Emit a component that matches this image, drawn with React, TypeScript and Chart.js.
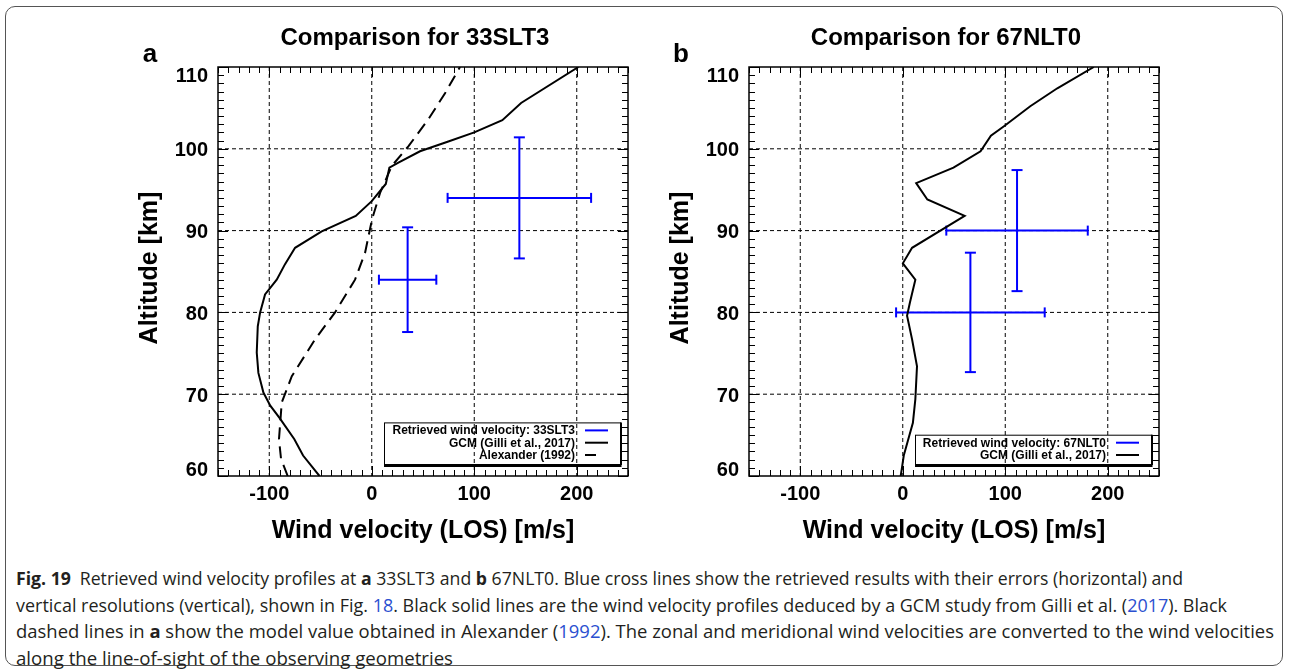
import React, { useEffect, useLayoutEffect, useRef } from "react";
import { Chart, registerables } from "chart.js";

Chart.register(...registerables);

const FONT = "'Liberation Sans', Arial, Helvetica, sans-serif";
const BLUE = "#0000ff";

// Axis ranges and tick marks
const velocityRange = [-150, 250];
const altitudeRange = [60, 110];
const velocityMajorTicks = [-100, 0, 100, 200];
const altitudeMajorTicks = [60, 70, 80, 90, 100, 110];
const velocityMinorStep = 10;
const altitudeMinorStep = 1;
const velocityAxisTitle = "Wind velocity (LOS) [m/s]";
const altitudeAxisTitle = "Altitude [km]";

// (a) 33SLT3 — GCM profile (Gilli et al., 2017)
const gcmAltitudeA = [60, 62.5, 64.5, 67.1, 68.6, 70.2, 72.6, 75.1, 78.3, 80, 82.2, 84, 85.9, 87.9, 89.9, 91.8, 93.6, 95.7, 97.7, 98.3, 99.7, 100.9, 102, 103.5, 105.6, 110];
const gcmVelocityA = [-51, -67, -75.5, -90, -99, -105.7, -110.6, -112.2, -111.2, -108.9, -104.1, -92.7, -84.6, -74.8, -48.8, -15.6, 0, 13.7, 17.2, 26, 47.1, 74.7, 100, 127.4, 145.7, 201.6];
// (a) 33SLT3 — Alexander (1992) model
const alexAltitudeA = [60, 62.1, 64.5, 69, 72.2, 76.7, 80, 84, 87.3, 91.4, 94.6, 97.9, 100.3, 103.6, 106.8, 110];
const alexVelocityA = [-82, -88.5, -90.5, -87.8, -78, -55.3, -35.8, -16.3, -6.5, 0.3, 8.1, 19.5, 35.7, 55.2, 71.5, 86.1];
// (a) retrieved winds: velocity, velocity error, altitude, vertical resolution
const retVelocityA = [35, 144];
const retVelocityErrA = [28, 70];
const retAltitudeA = [84, 94];
const retAltitudeResA = [6.4, 7.4];

// (b) 67NLT0 — GCM profile (Gilli et al., 2017)
const gcmAltitudeB = [60, 60.8, 62.5, 64.3, 66.5, 69.4, 73.4, 76.7, 79.6, 81.2, 84, 86, 87.9, 91.8, 93.8, 95.8, 97.7, 99.7, 101.6, 102.7, 105.2, 107.4, 110];
const gcmVelocityB = [-2, -1, 1, 5, 9.9, 12.3, 13.9, 9.1, 4.2, 7, 12.3, 0.1, 9.1, 60.4, 24, 13.1, 49.5, 75.9, 86, 98.1, 124.4, 150.8, 186.4];
// (b) retrieved winds
const retVelocityB = [111.5, 66];
const retVelocityErrB = [69, 72.5];
const retAltitudeB = [90, 80];
const retAltitudeResB = [7.4, 7.3];

const ALEX_DASH = [12, 7];

type LegendEntry = { text: string; color: string; dashed?: boolean };
type PanelSpec = {
  left: number;
  label: string;
  title: string;
  lines: { vel: number[]; alt: number[]; dashed?: boolean }[];
  ret: { vel: number[]; err: number[]; alt: number[]; res: number[] };
  legend: LegendEntry[];
};

const panels: PanelSpec[] = [
  {
    left: 0,
    label: "a",
    title: "Comparison for 33SLT3",
    lines: [
      { vel: gcmVelocityA, alt: gcmAltitudeA },
      { vel: alexVelocityA, alt: alexAltitudeA, dashed: true },
    ],
    ret: { vel: retVelocityA, err: retVelocityErrA, alt: retAltitudeA, res: retAltitudeResA },
    legend: [
      { text: "Retrieved wind velocity: 33SLT3", color: BLUE },
      { text: "GCM (Gilli et al., 2017)", color: "#000" },
      { text: "Alexander (1992)", color: "#000", dashed: true },
    ],
  },
  {
    left: 531,
    label: "b",
    title: "Comparison for 67NLT0",
    lines: [{ vel: gcmVelocityB, alt: gcmAltitudeB }],
    ret: { vel: retVelocityB, err: retVelocityErrB, alt: retAltitudeB, res: retAltitudeResB },
    legend: [
      { text: "Retrieved wind velocity: 67NLT0", color: BLUE },
      { text: "GCM (Gilli et al., 2017)", color: "#000" },
    ],
  },
];

const CANVAS_W = 645;
const CANVAS_H = 545;

function xy(vel: number[], alt: number[]) {
  return vel.map((v, i) => ({ x: v, y: alt[i] }));
}

function buildDatasets(p: PanelSpec) {
  const ds: any[] = [];
  p.lines.forEach((l) => {
    ds.push({
      data: xy(l.vel, l.alt),
      borderColor: "#000",
      borderWidth: 2,
      borderDash: l.dashed ? ALEX_DASH : [],
      pointRadius: 0,
      fill: false,
      tension: 0,
    });
  });
  p.ret.vel.forEach((v, i) => {
    const e = p.ret.err[i];
    const a = p.ret.alt[i];
    const r = p.ret.res[i];
    // horizontal arm (velocity error) with vertical end caps
    ds.push({
      data: [
        { x: v - e, y: a },
        { x: v + e, y: a },
      ],
      borderColor: BLUE,
      borderWidth: 2,
      pointStyle: "line",
      pointRadius: 5,
      pointRotation: 90,
      pointBorderColor: BLUE,
      pointBorderWidth: 2,
      fill: false,
    });
    // vertical arm (altitude resolution) with horizontal end caps
    ds.push({
      data: [
        { x: v, y: a - r },
        { x: v, y: a + r },
      ],
      borderColor: BLUE,
      borderWidth: 2,
      pointStyle: "line",
      pointRadius: 5.5,
      pointRotation: 0,
      pointBorderColor: BLUE,
      pointBorderWidth: 2,
      fill: false,
    });
  });
  return ds;
}

function decorPlugin(p: PanelSpec) {
  return {
    id: "panelDecor",
    beforeDatasetsDraw(chart: any) {
      const { ctx, chartArea: ca, scales } = chart;
      const xs = scales.x;
      const ys = scales.y;
      ctx.save();
      ctx.strokeStyle = "#000";
      ctx.lineWidth = 1;
      ctx.setLineDash([4, 3]);
      velocityMajorTicks.forEach((v) => {
        const px = xs.getPixelForValue(v);
        ctx.beginPath();
        ctx.moveTo(px, ca.top);
        ctx.lineTo(px, ca.bottom);
        ctx.stroke();
      });
      altitudeMajorTicks.forEach((a) => {
        if (a <= altitudeRange[0] || a >= altitudeRange[1]) return;
        const py = ys.getPixelForValue(a);
        ctx.beginPath();
        ctx.moveTo(ca.left, py);
        ctx.lineTo(ca.right, py);
        ctx.stroke();
      });
      ctx.restore();
    },
    afterDatasetsDraw(chart: any) {
      const { ctx, chartArea: ca, scales } = chart;
      const xs = scales.x;
      const ys = scales.y;
      ctx.save();
      ctx.setLineDash([]);
      ctx.strokeStyle = "#000";
      // tick marks on all four sides, pointing inward
      ctx.lineWidth = 1;
      const nx = Math.round((velocityRange[1] - velocityRange[0]) / velocityMinorStep);
      for (let i = 0; i <= nx; i++) {
        const v = velocityRange[0] + i * velocityMinorStep;
        const len = velocityMajorTicks.includes(v) ? 10 : 6;
        const px = Math.round(xs.getPixelForValue(v)) + 0.5;
        ctx.beginPath();
        ctx.moveTo(px, ca.bottom);
        ctx.lineTo(px, ca.bottom - len);
        ctx.moveTo(px, ca.top);
        ctx.lineTo(px, ca.top + len);
        ctx.stroke();
      }
      const ny = Math.round((altitudeRange[1] - altitudeRange[0]) / altitudeMinorStep);
      for (let i = 0; i <= ny; i++) {
        const a = altitudeRange[0] + i * altitudeMinorStep;
        const len = altitudeMajorTicks.includes(a) ? 10 : 6;
        const py = Math.round(ys.getPixelForValue(a)) + 0.5;
        ctx.beginPath();
        ctx.moveTo(ca.left, py);
        ctx.lineTo(ca.left + len, py);
        ctx.moveTo(ca.right, py);
        ctx.lineTo(ca.right - len, py);
        ctx.stroke();
      }
      // frame
      ctx.lineWidth = 1.5;
      ctx.strokeRect(ca.left, ca.top, ca.right - ca.left, ca.bottom - ca.top);

      ctx.fillStyle = "#000";
      // velocity tick labels
      ctx.font = `bold 20px ${FONT}`;
      ctx.textAlign = "center";
      ctx.textBaseline = "alphabetic";
      velocityMajorTicks.forEach((v) => {
        ctx.fillText(String(v), xs.getPixelForValue(v), ca.bottom + 24);
      });
      // altitude tick labels (end labels kept inside the frame height)
      const cap = 15;
      ctx.textAlign = "right";
      altitudeMajorTicks.forEach((a) => {
        const py = ys.getPixelForValue(a);
        const base = Math.min(Math.max(py + cap / 2, ca.top + cap), ca.bottom);
        ctx.fillText(String(a), ca.left - 10, base);
      });
      // axis titles
      const cx = (ca.left + ca.right) / 2;
      ctx.font = `bold 25px ${FONT}`;
      ctx.textAlign = "center";
      ctx.fillText(velocityAxisTitle, cx, ca.bottom + 62);
      ctx.save();
      ctx.translate(150, 268);
      ctx.rotate(-Math.PI / 2);
      ctx.textBaseline = "middle";
      ctx.fillText(altitudeAxisTitle, 0, 0);
      ctx.restore();
      // panel title and letter
      ctx.font = `bold 24px ${FONT}`;
      ctx.textAlign = "center";
      ctx.fillText(p.title, cx - 8, 45);
      ctx.font = `bold 26px ${FONT}`;
      ctx.fillText(p.label, 150, 62);
      ctx.restore();
    },
    afterDraw(chart: any) {
      const { ctx, chartArea: ca } = chart;
      const boxRight = ca.right - 8;
      const boxBottom = ca.bottom - 11;
      const rowGap = 12.3;
      const n = p.legend.length;
      const firstRow = boxBottom - 10 - (n - 1) * rowGap;
      const boxTop = firstRow - 8;
      const boxLeft = ca.left + 166;
      ctx.save();
      ctx.strokeStyle = "#000";
      ctx.lineWidth = 1;
      ctx.strokeRect(boxLeft + 0.5, boxTop + 0.5, boxRight - boxLeft, boxBottom - boxTop);
      ctx.lineWidth = 3;
      ctx.beginPath();
      ctx.moveTo(boxLeft, boxBottom + 0.5);
      ctx.lineTo(boxRight + 1.5, boxBottom + 0.5);
      ctx.stroke();
      ctx.lineWidth = 2;
      ctx.beginPath();
      ctx.moveTo(boxRight + 1, boxTop);
      ctx.lineTo(boxRight + 1, boxBottom);
      ctx.stroke();

      ctx.font = `bold 12px ${FONT}`;
      ctx.textAlign = "right";
      ctx.textBaseline = "middle";
      p.legend.forEach((e, i) => {
        const y = firstRow + i * rowGap;
        ctx.fillStyle = "#000";
        ctx.fillText(e.text, boxRight - 45, y + 0.5);
        ctx.strokeStyle = e.color;
        ctx.lineWidth = 2;
        ctx.beginPath();
        ctx.moveTo(boxRight - 35, y);
        ctx.lineTo(e.dashed ? boxRight - 24 : boxRight - 12, y);
        ctx.stroke();
      });
      ctx.restore();
    },
  };
}

function Panel({ spec }: { spec: PanelSpec }) {
  const ref = useRef<HTMLCanvasElement | null>(null);
  useEffect(() => {
    if (!ref.current) return;
    const chart = new Chart(ref.current, {
      type: "line",
      data: { datasets: buildDatasets(spec) },
      options: {
        animation: false,
        responsive: false,
        devicePixelRatio: 1,
        events: [],
        layout: { padding: { left: 218, top: 67, right: CANVAS_W - 628, bottom: CANVAS_H - 476 } },
        scales: {
          x: { type: "linear", min: velocityRange[0], max: velocityRange[1], display: false },
          y: { type: "linear", min: altitudeRange[0], max: altitudeRange[1], display: false },
        },
        plugins: {
          legend: { display: false },
          tooltip: { enabled: false },
          title: { display: false },
        },
      },
      plugins: [decorPlugin(spec)],
    } as any);
    return () => chart.destroy();
  }, [spec]);
  return (
    <canvas
      ref={ref}
      width={CANVAS_W}
      height={CANVAS_H}
      style={{ position: "absolute", left: spec.left, top: 0, width: CANVAS_W, height: CANVAS_H }}
    />
  );
}

type Seg = { t: string; b?: boolean; link?: boolean };
const captionLines: Seg[][] = [
  [
    { t: "Fig. 19", b: true },
    { t: "\u2002Retrieved wind velocity profiles at " },
    { t: "a", b: true },
    { t: " 33SLT3 and " },
    { t: "b", b: true },
    { t: " 67NLT0. Blue cross lines show the retrieved results with their errors (horizontal) and" },
  ],
  [
    { t: "vertical resolutions (vertical), shown in Fig. " },
    { t: "18", link: true },
    { t: ". Black solid lines are the wind velocity profiles deduced by a GCM study from Gilli et al. (" },
    { t: "2017", link: true },
    { t: "). Black" },
  ],
  [
    { t: "dashed lines in " },
    { t: "a", b: true },
    { t: " show the model value obtained in Alexander (" },
    { t: "1992", link: true },
    { t: "). The zonal and meridional wind velocities are converted to the wind velocities" },
  ],
  [{ t: "along the line-of-sight of the observing geometries" }],
];
const captionLineWidths = [1167, 1211, 1258, 437];

function Caption() {
  const refs = useRef<(HTMLSpanElement | null)[]>([]);
  useLayoutEffect(() => {
    refs.current.forEach((el, i) => {
      if (!el) return;
      el.style.transform = "none";
      const w = el.getBoundingClientRect().width;
      if (w > 0) el.style.transform = `scaleX(${captionLineWidths[i] / w})`;
    });
  }, []);
  return (
    <div
      style={{
        position: "absolute",
        left: 16,
        top: 565,
        fontFamily: "'Open Sans', 'Noto Sans', sans-serif",
        fontSize: 17.5,
        lineHeight: "26.7px",
        color: "#231f20",
      }}
    >
      {captionLines.map((line, i) => (
        <div key={i} style={{ height: 26.7, whiteSpace: "nowrap" }}>
          <span
            ref={(el) => {
              refs.current[i] = el;
            }}
            style={{ display: "inline-block", transformOrigin: "0 50%" }}
          >
            {line.map((s, j) => (
              <span
                key={j}
                style={{
                  fontWeight: s.b ? 700 : 400,
                  color: s.link ? "#2b4fd0" : undefined,
                }}
              >
                {s.t}
              </span>
            ))}
          </span>
        </div>
      ))}
    </div>
  );
}

export default function App() {
  return (
    <div
      style={{
        position: "absolute",
        left: 0,
        top: 0,
        width: 1290,
        height: 670,
        background: "#fff",
        overflow: "hidden",
      }}
    >
      <div
        style={{
          position: "absolute",
          left: 5,
          top: 6,
          width: 1278,
          height: 660,
          border: "1px solid #555",
          borderRadius: 10,
          boxSizing: "border-box",
        }}
      />
      {panels.map((p) => (
        <Panel key={p.label} spec={p} />
      ))}
      <Caption />
    </div>
  );
}
